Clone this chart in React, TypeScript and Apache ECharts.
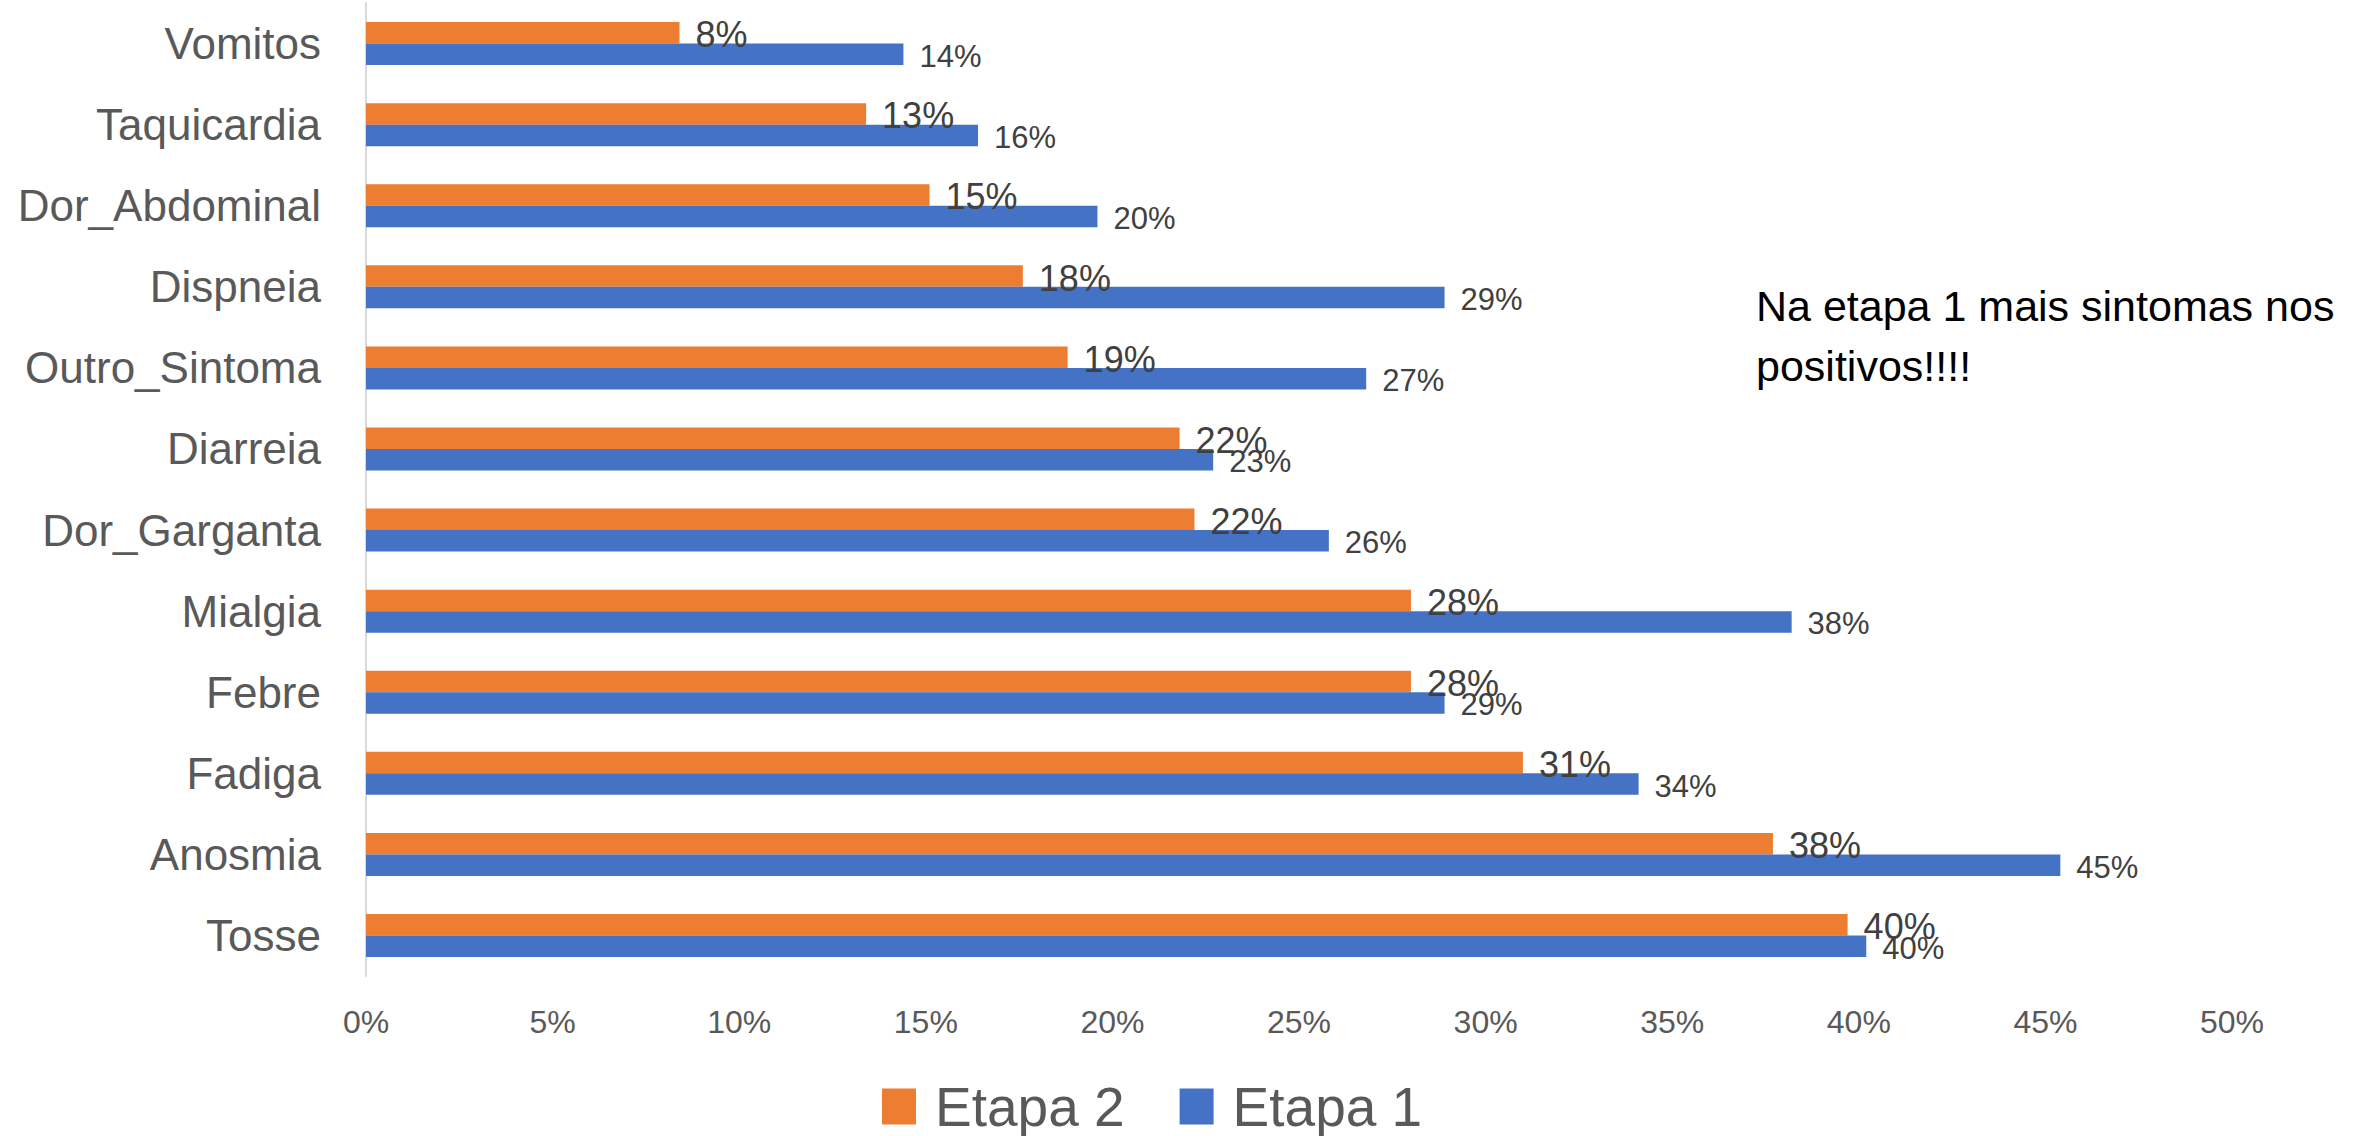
import React, { useEffect, useRef } from "react";
import * as echarts from "echarts";

const categories = [
  "Tosse",
  "Anosmia",
  "Fadiga",
  "Febre",
  "Mialgia",
  "Dor_Garganta",
  "Diarreia",
  "Outro_Sintoma",
  "Dispneia",
  "Dor_Abdominal",
  "Taquicardia",
  "Vomitos",
];
const etapa1 = [40.2, 45.4, 34.1, 28.9, 38.2, 25.8, 22.7, 26.8, 28.9, 19.6, 16.4, 14.4];
const etapa2 = [39.7, 37.7, 31.0, 28.0, 28.0, 22.2, 21.8, 18.8, 17.6, 15.1, 13.4, 8.4];
const xMin = 0;
const xMax = 50;
const xInterval = 5;
const legendNames = ["Etapa 2", "Etapa 1"];
const noteText = "Na etapa 1 mais sintomas nos\npositivos!!!!";

const FONT = "'Liberation Sans', Arial, sans-serif";

export default function App() {
  const ref = useRef<HTMLDivElement>(null);
  useEffect(() => {
    document.body.style.margin = "0";
    const chart = echarts.init(ref.current!, undefined, { renderer: "svg" });
    chart.setOption({
      animation: false,
      backgroundColor: "#ffffff",
      textStyle: { fontFamily: FONT },
      grid: { left: 366, right: 129, top: 3, bottom: 160, containLabel: false },
      legend: {
        data: legendNames,
        left: 877,
        top: 1074,
        itemWidth: 34,
        itemHeight: 36,
        itemGap: 55,
        icon: "rect",
        textStyle: {
          fontSize: 55,
          color: "#595959",
          fontFamily: FONT,
          padding: [0, 0, 0, 14],
        },
      },
      xAxis: {
        type: "value",
        min: xMin,
        max: xMax,
        interval: xInterval,
        axisLine: { show: false },
        axisTick: { show: false },
        splitLine: { show: false },
        axisLabel: {
          formatter: "{value}%",
          fontSize: 32,
          color: "#595959",
          margin: 30,
          fontFamily: FONT,
        },
      },
      yAxis: {
        type: "category",
        data: categories,
        axisLine: { show: true, lineStyle: { color: "#d9d9d9", width: 2 } },
        axisTick: { show: false },
        axisLabel: {
          fontSize: 44,
          color: "#595959",
          margin: 45,
          fontFamily: FONT,
        },
      },
      series: [
        {
          name: "Etapa 2",
          type: "bar",
          data: etapa2,
          barWidth: 21.5,
          barGap: "0%",
          itemStyle: { color: "#ED7D31" },
          label: {
            show: true,
            position: "right",
            distance: 16,
            fontSize: 36,
            color: "#404040",
            fontFamily: FONT,
            offset: [0, 2],
            formatter: (p: any) => Math.round(p.value) + "%",
          },
        },
        {
          name: "Etapa 1",
          type: "bar",
          data: etapa1,
          barWidth: 21.5,
          barGap: "0%",
          itemStyle: { color: "#4472C4" },
          label: {
            show: true,
            position: "right",
            distance: 16,
            fontSize: 31,
            color: "#404040",
            fontFamily: FONT,
            offset: [0, 2],
            formatter: (p: any) => Math.round(p.value) + "%",
          },
        },
      ],
      graphic: [
        {
          type: "text",
          left: 1756,
          top: 276,
          style: {
            text: noteText,
            fontSize: 43,
            lineHeight: 60,
            fill: "#000000",
            fontFamily: FONT,
          },
        },
      ],
    });
    return () => chart.dispose();
  }, []);
  return (
    <div
      ref={ref}
      style={{ position: "absolute", left: 0, top: 0, width: 2361, height: 1136 }}
    />
  );
}
